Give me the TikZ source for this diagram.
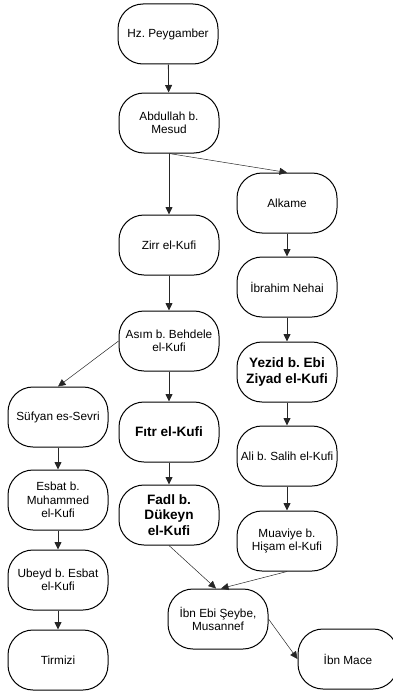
\documentclass[tikz,border=0pt]{standalone}
\usepackage{fontspec}
\setmainfont{Liberation Sans}
\usepackage{tikz}
\usetikzlibrary{arrows.meta,positioning,calc}
\frenchspacing
\tikzset{
    >={Triangle[length=7.5pt,width=7pt]},
    kisi/.style={
        rectangle,
        rounded corners=25pt,
        draw=black, line width=1pt,
        minimum width=100pt,
        minimum height=60pt,
        inner sep=1pt,
        align=center,
        font={\fontsize{11.8pt}{13.3pt}\selectfont}
    },
    kalin/.style={
        kisi,
        font={\fontsize{13.6pt}{15.7pt}\selectfont\bfseries}
    },
    line/.style={draw=black!85, line width=0.8pt, ->},
    capraz/.style={draw=black!85, line width=0.5pt, ->},
}

\begin{document}
\begin{tikzpicture}[x=1pt,y=-1pt]
\useasboundingbox (0,0) rectangle (392,693);
% orta kol
\node[kisi] (peygamber) at (168,34) {Hz. Peygamber};
\node[kisi] (abdullah) at (169,123) {Abdullah b.\\Mesud};
\node[kisi] (zirr) at (169,245) {Zirr el-Kufi};
\node[kisi] (asim) at (169,341) {Asım b. Behdele\\el-Kufi};
\node[kalin] (fitr) at (169,432) {Fıtr el-Kufi};
\node[kalin] (fadl) at (169,515) {Fadl b.\\Dükeyn\\el-Kufi};
% sag kol
\node[kisi] (alkame) at (287,203) {Alkame};
\node[kisi] (ibrahim) at (287,287) {İbrahim Nehai};
\node[kalin] (yezid) at (287,372) {Yezid b. Ebi\\Ziyad el-Kufi};
\node[kisi] (ali) at (287,456) {Ali b. Salih el-Kufi};
\node[kisi] (muaviye) at (287,541) {Muaviye b.\\Hişam el-Kufi};
% sol kol
\node[kisi] (sufyan) at (58,417) {Süfyan es-Sevri};
\node[kisi] (esbat) at (58,500) {Esbat b.\\Muhammed\\el-Kufi};
\node[kisi] (ubeyd) at (58,580) {Ubeyd b. Esbat\\el-Kufi};
\node[kisi] (tirmizi) at (58,660) {Tirmizi};
% alt
\node[kisi] (ibnebi) at (218,619) {İbn Ebi Şeybe,\\Musannef};
\node[kisi] (ibnmace) at (348,659) {İbn Mace};

\path[line] (peygamber) -- (abdullah);
\path[line] (abdullah) -- (zirr);
\path[capraz] (abdullah.south) -- (alkame.north);
\path[line] (zirr) -- (asim);
\path[capraz] (asim.west) -- (sufyan.north);
\path[line] (asim) -- (fitr);
\path[line] (fitr) -- (fadl);
\path[line] (alkame) -- (ibrahim);
\path[line] (ibrahim) -- (yezid);
\path[line] (yezid) -- (ali);
\path[line] (ali) -- (muaviye);
\path[line] (sufyan) -- (esbat);
\path[line] (esbat) -- (ubeyd);
\path[line] (ubeyd) -- (tirmizi);
\path[capraz] (fadl.south) -- ([xshift=-2pt]ibnebi.north);
\path[capraz] (muaviye.south) -- ([xshift=3pt]ibnebi.north);
\path[capraz] (ibnebi.east) -- (ibnmace.west);
\end{tikzpicture}
\end{document}
